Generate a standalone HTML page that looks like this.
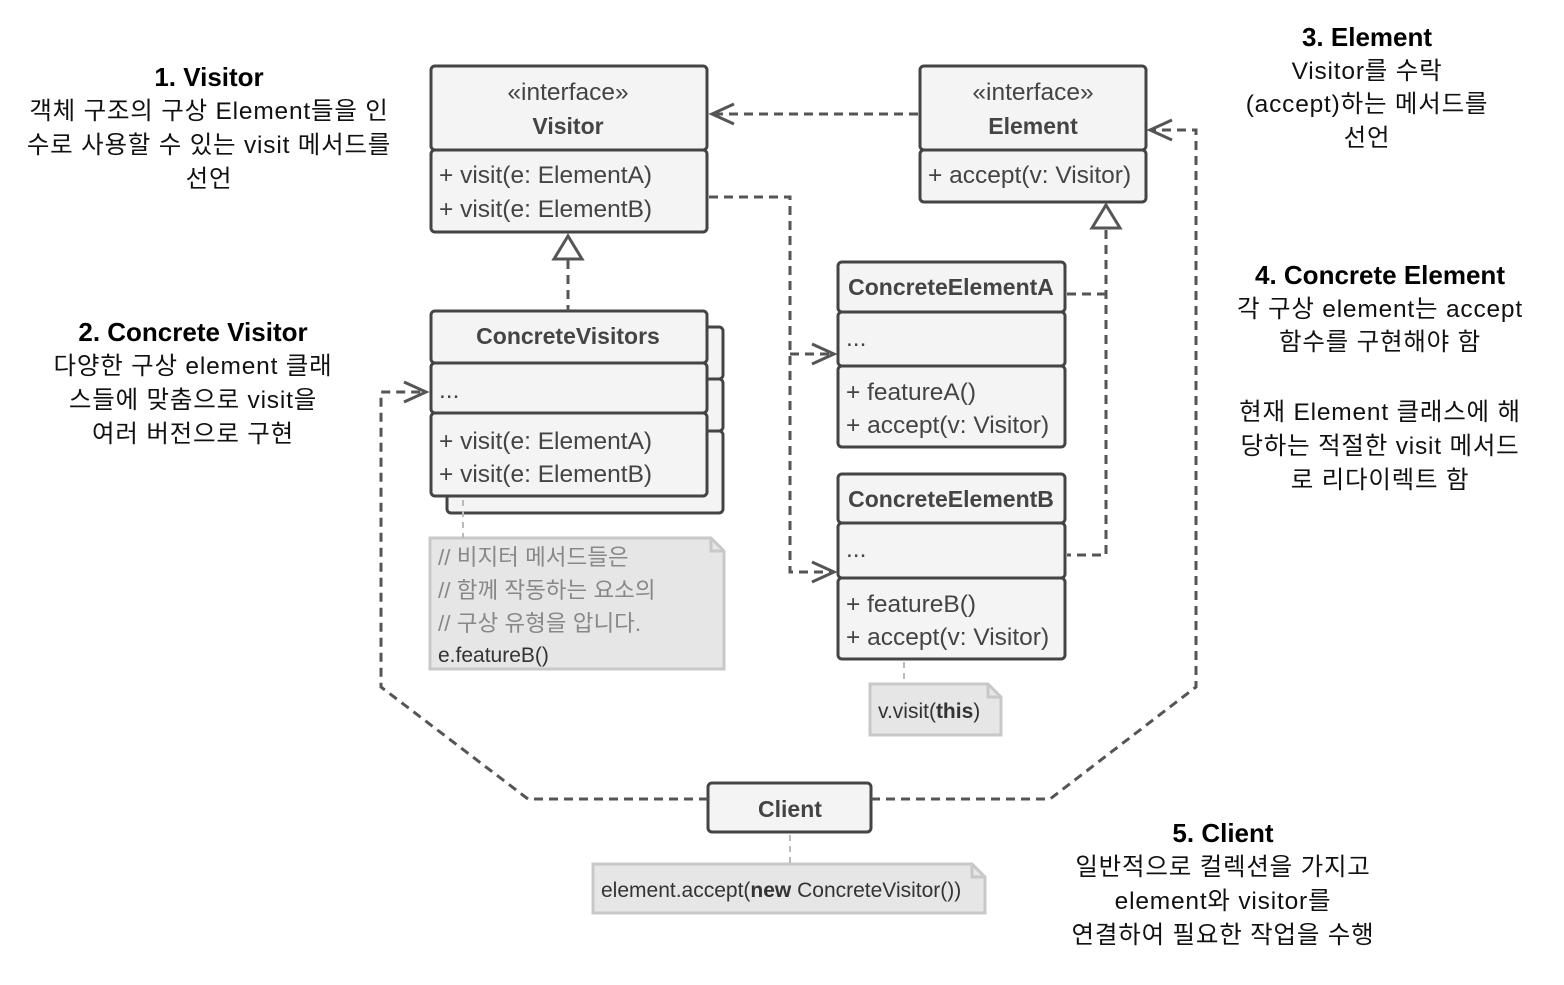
<!DOCTYPE html>
<html><head><meta charset="utf-8"><style>
html,body{margin:0;padding:0;background:#fff;}
svg{display:block;}
text{font-family:"Liberation Sans","Noto Sans CJK KR",sans-serif;}
.t{fill:#444;font-size:24.5px;}
.b{fill:#444;font-size:23px;font-weight:bold;}
.h{fill:#000;font-size:26px;font-weight:bold;}
.k{fill:#111;font-size:24.5px;letter-spacing:0.8px;}
.n{fill:#888;font-size:22.5px;}
.nd{fill:#333;font-size:21px;}
</style></head><body>
<svg width="1564" height="985" viewBox="0 0 1564 985" xmlns="http://www.w3.org/2000/svg">
<g fill="#f4f4f4" stroke="#444" stroke-width="3">
<rect x="431" y="66" width="276" height="84" rx="4"/>
<rect x="431" y="150" width="276" height="82" rx="4"/>
<rect x="920" y="66" width="226" height="84" rx="4"/>
<rect x="920" y="150" width="226" height="52" rx="4"/>
<rect x="447" y="327" width="276" height="52" rx="4"/>
<rect x="447" y="379" width="276" height="52" rx="4"/>
<rect x="447" y="431" width="276" height="82" rx="4"/>
<rect x="431" y="311" width="276" height="52" rx="4"/>
<rect x="431" y="363" width="276" height="50" rx="4"/>
<rect x="431" y="413" width="276" height="83" rx="4"/>
<rect x="838" y="262" width="227" height="50" rx="4"/>
<rect x="838" y="312" width="227" height="54" rx="4"/>
<rect x="838" y="366" width="227" height="81" rx="4"/>
<rect x="838" y="474" width="227" height="49" rx="4"/>
<rect x="838" y="523" width="227" height="55" rx="4"/>
<rect x="838" y="578" width="227" height="81" rx="4"/>
<rect x="708" y="783" width="163" height="49" rx="4"/>
</g>
<g fill="#e6e6e6" stroke="#c8c8c8" stroke-width="3">
<path d="M430 538 H711 L724 551 V669 H430 Z"/>
<path d="M870 684 H988 L1001 697 V735 H870 Z"/>
<path d="M593 864 H972 L985 877 V913 H593 Z"/>
</g>
<g fill="none" stroke="#c8c8c8" stroke-width="3">
<path d="M711 538 V551 H724"/><path d="M988 684 V697 H1001"/><path d="M972 864 V877 H985"/>
</g>
<g stroke="#bbb" stroke-width="2" stroke-dasharray="6,5" fill="none">
<path d="M463 500 V538"/><path d="M904 662 V684"/><path d="M790 835 V864"/>
</g>
<g fill="none" stroke="#555" stroke-width="3" stroke-dasharray="9,6">
<path d="M918 114 H712"/>
<path d="M709 197 H790 V572 H834"/>
<path d="M790 354 H834"/>
<path d="M568 260 V311"/>
<path d="M1106 230 V555 H1067"/>
<path d="M1067 294 H1106"/>
<path d="M708 799 H528 L381 687 V392 H426"/>
<path d="M871 799 H1050 L1196 687 V130 H1152"/>
</g>
<g fill="none" stroke="#555" stroke-width="3">
<path d="M734 104 L712 114 L734 124"/>
<path d="M812 344 L834 354 L812 364"/>
<path d="M812 562 L834 572 L812 582"/>
<path d="M404 382 L426 392 L404 402"/>
<path d="M1172 120 L1150 130 L1172 140"/>
</g>
<g fill="#fff" stroke="#555" stroke-width="3">
<path d="M568 236 L582 259 L554 259 Z"/>
<path d="M1106 205 L1120 228 L1092 228 Z"/>
</g>
<text class="t" x="568" y="100" text-anchor="middle">«interface»</text>
<text class="b" x="568" y="134" text-anchor="middle">Visitor</text>
<text class="t" x="439" y="183">+ visit(e: ElementA)</text>
<text class="t" x="439" y="217">+ visit(e: ElementB)</text>
<text class="t" x="1033" y="100" text-anchor="middle">«interface»</text>
<text class="b" x="1033" y="134" text-anchor="middle">Element</text>
<text class="t" x="928" y="183">+ accept(v: Visitor)</text>
<text class="b" x="568" y="344" text-anchor="middle">ConcreteVisitors</text>
<text class="t" x="439" y="398">...</text>
<text class="t" x="439" y="449">+ visit(e: ElementA)</text>
<text class="t" x="439" y="482">+ visit(e: ElementB)</text>
<text class="b" x="951" y="295" text-anchor="middle">ConcreteElementA</text>
<text class="t" x="846" y="346">...</text>
<text class="t" x="846" y="400">+ featureA()</text>
<text class="t" x="846" y="433">+ accept(v: Visitor)</text>
<text class="b" x="951" y="507" text-anchor="middle">ConcreteElementB</text>
<text class="t" x="846" y="557">...</text>
<text class="t" x="846" y="612">+ featureB()</text>
<text class="t" x="846" y="645">+ accept(v: Visitor)</text>
<text class="b" x="790" y="817" text-anchor="middle">Client</text>
<text class="n" x="438" y="565">// 비지터 메서드들은</text>
<text class="n" x="438" y="598">// 함께 작동하는 요소의</text>
<text class="n" x="438" y="631">// 구상 유형을 압니다.</text>
<text class="nd" x="438" y="662">e.featureB()</text>
<text class="nd" x="878" y="718">v.visit(<tspan font-weight="bold">this</tspan>)</text>
<text class="nd" x="601" y="897">element.accept(<tspan font-weight="bold">new</tspan> ConcreteVisitor())</text>
<g text-anchor="middle">
<text class="h" x="209" y="86">1. Visitor</text>
<text class="k" x="209" y="119">객체 구조의 구상 Element들을 인</text>
<text class="k" x="209" y="153">수로 사용할 수 있는 visit 메서드를</text>
<text class="k" x="209" y="187">선언</text>
<text class="h" x="193" y="341">2. Concrete Visitor</text>
<text class="k" x="193" y="374">다양한 구상 element 클래</text>
<text class="k" x="193" y="408">스들에 맞춤으로 visit을</text>
<text class="k" x="193" y="442">여러 버전으로 구현</text>
<text class="h" x="1367" y="46">3. Element</text>
<text class="k" x="1367" y="79">Visitor를 수락</text>
<text class="k" x="1367" y="112">(accept)하는 메서드를</text>
<text class="k" x="1367" y="146">선언</text>
<text class="h" x="1380" y="284">4. Concrete Element</text>
<text class="k" x="1380" y="317">각 구상 element는 accept</text>
<text class="k" x="1380" y="350">함수를 구현해야 함</text>
<text class="k" x="1380" y="420">현재 Element 클래스에 해</text>
<text class="k" x="1380" y="454">당하는 적절한 visit 메서드</text>
<text class="k" x="1380" y="488">로 리다이렉트 함</text>
<text class="h" x="1223" y="842">5. Client</text>
<text class="k" x="1223" y="875">일반적으로 컬렉션을 가지고</text>
<text class="k" x="1223" y="909">element와 visitor를</text>
<text class="k" x="1223" y="943">연결하여 필요한 작업을 수행</text>
</g>
</svg>
</body></html>
